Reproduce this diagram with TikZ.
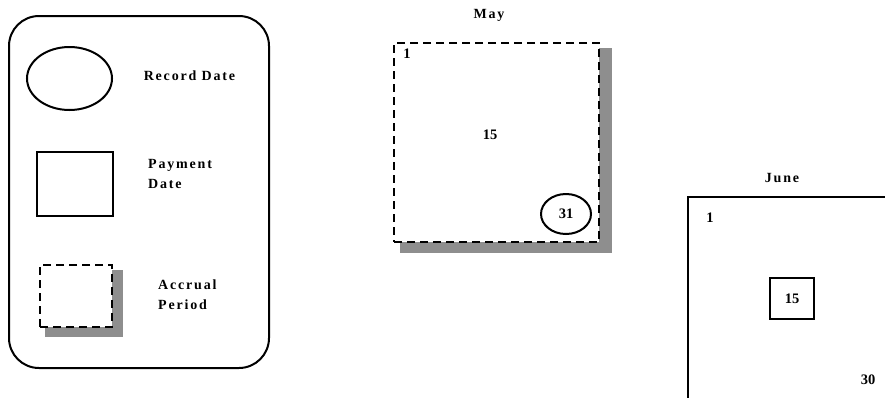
\documentclass[tikz,border=0pt]{standalone}
\usepackage{fontspec}
\setmainfont{Liberation Serif}
\newfontfamily\spaced{Liberation Serif}[LetterSpace=13]
\usetikzlibrary{shapes.geometric}
\begin{document}
\begin{tikzpicture}[x=1pt,y=-1pt,
  lbl/.style={font=\spaced\bfseries\fontsize{14}{20}\selectfont, inner sep=0pt},
  num/.style={font=\bfseries\fontsize{14.5}{16}\selectfont, inner sep=0pt},
  solidbox/.style={draw, line width=2pt, inner sep=0pt},
  dashbox/.style={draw, line width=1.2pt, dash pattern=on 8pt off 5pt, fill=white, inner sep=0pt},
  shade/.style={fill=shadowgray, draw=none}]
\definecolor{shadowgray}{RGB}{142,142,142}
\useasboundingbox (0,0) rectangle (885,397);
\clip (0,0) rectangle (885,397);
% legend
\node[solidbox, rounded corners=30pt, minimum width=260pt, minimum height=352pt, anchor=north west] (legend) at (8,15) {};
\node[solidbox, ellipse, minimum width=85pt, minimum height=63pt] (recsym) at (69.5,78.5) {};
\node[lbl] (rectxt) at (189.5,76) {Record Date};
\node[solidbox, minimum width=76pt, minimum height=64pt] (paysym) at (75,184) {};
\node[lbl, anchor=west, align=left] (paytxt) at (148,174) {Payment\\Date};
\fill[shade] (45,270) rectangle (123,337);
\node[dashbox, minimum width=72pt, minimum height=62pt] (accsym) at (76,296) {};
\node[lbl, anchor=west, align=left] (acctxt) at (158,295) {Accrual\\Period};
% May
\node[lbl] (maylbl) at (489,15) {May};
\fill[shade] (400,48) rectangle (612,253);
\node[dashbox, minimum width=205pt, minimum height=199pt] (may) at (496.5,142.5) {};
\node[num] (may1) at (407,54) {1};
\node[num] (may15) at (490,135) {15};
\node[solidbox, ellipse, minimum width=50pt, minimum height=40pt, font=\bfseries\fontsize{14.5}{16}\selectfont] (may31) at (566,214) {31};
% June
\node[lbl] (junelbl) at (782,178) {June};
\node[solidbox, minimum width=300pt, minimum height=300pt, anchor=north west] (june) at (687,196) {};
\node[num] (june1) at (710,218) {1};
\node[solidbox, minimum width=44pt, minimum height=41pt, font=\bfseries\fontsize{14.5}{16}\selectfont] (june15) at (792,298.5) {15};
\node[num] (june30) at (868,380) {30};
\end{tikzpicture}
\end{document}
